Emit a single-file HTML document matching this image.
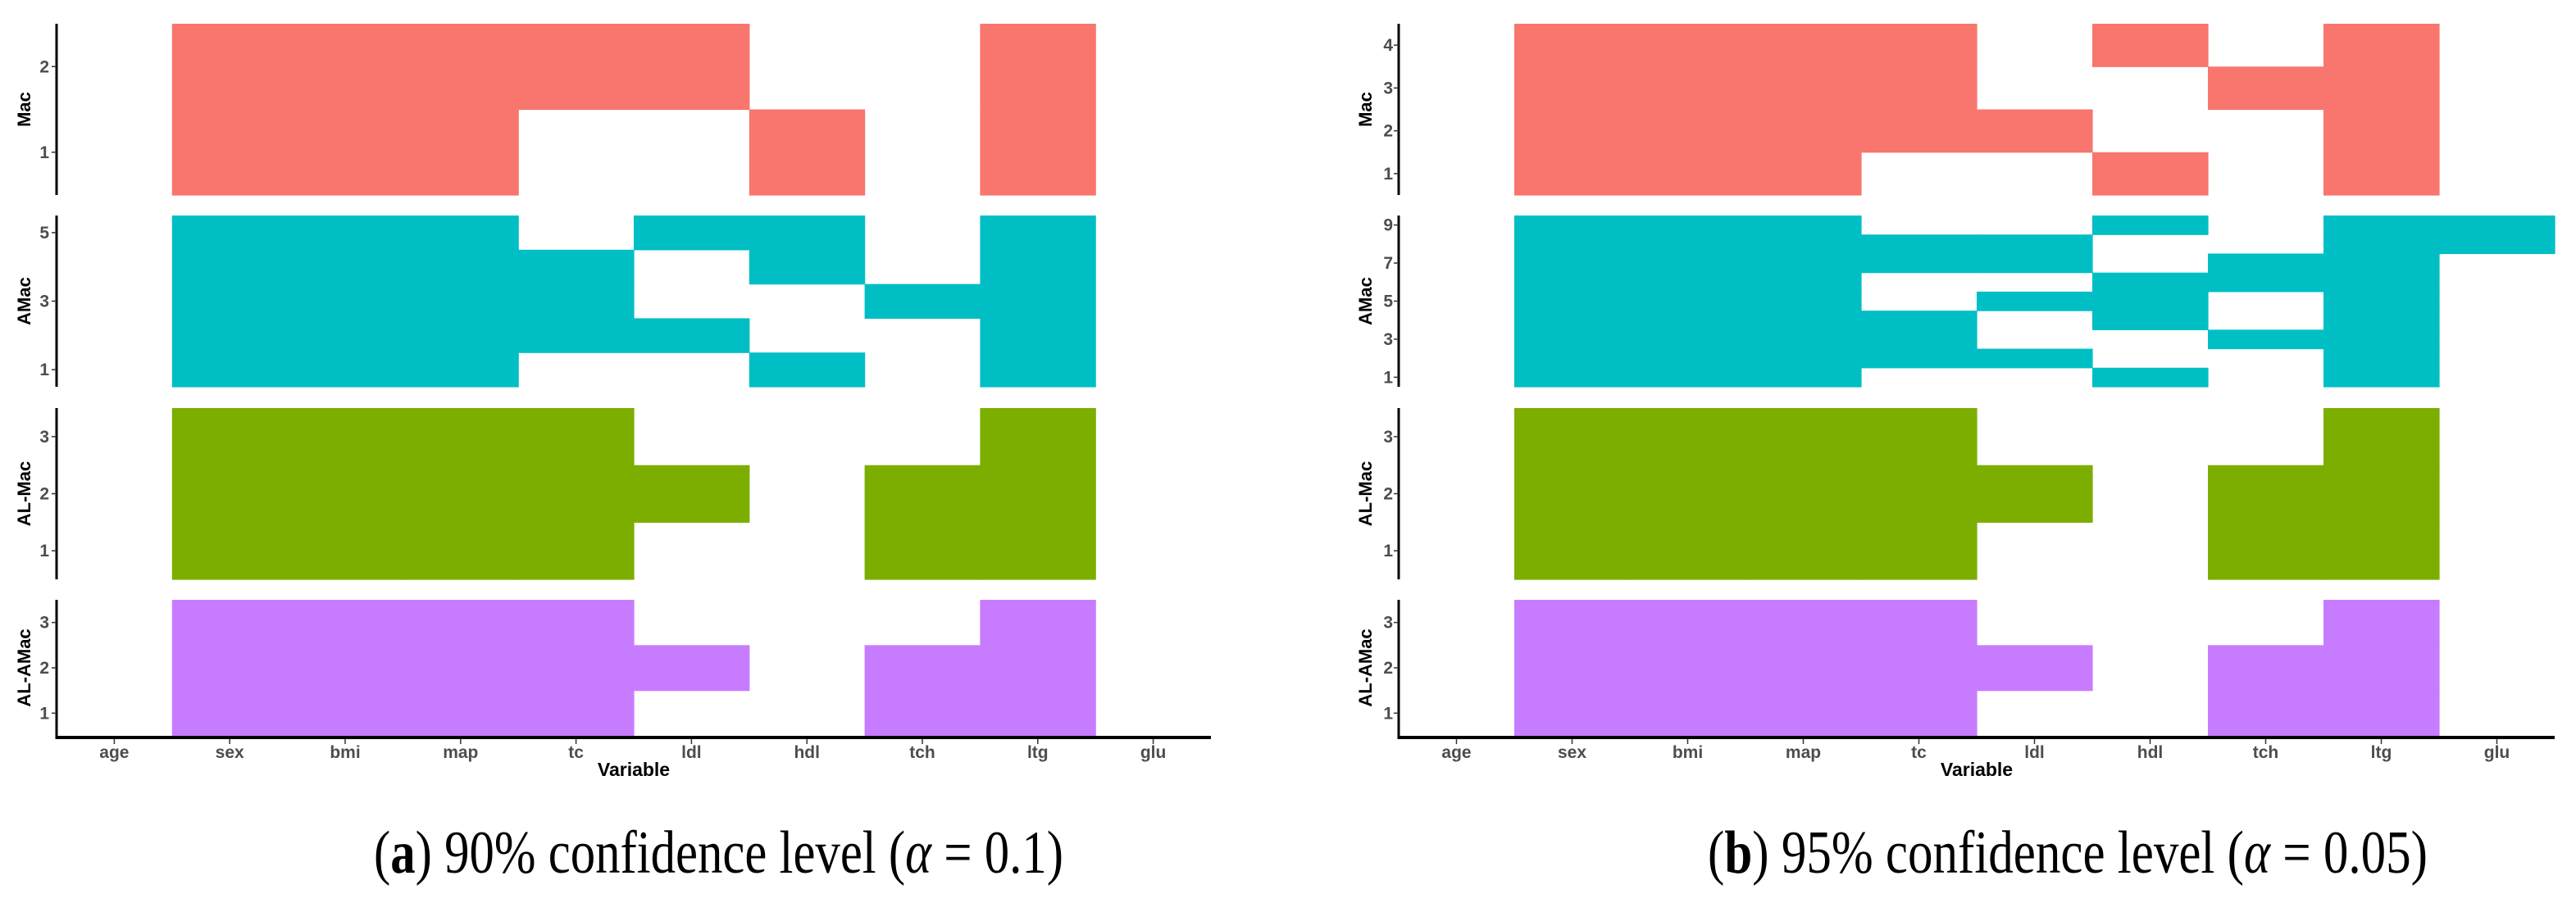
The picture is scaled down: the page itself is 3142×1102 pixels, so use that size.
<!DOCTYPE html>
<html><head><meta charset="utf-8"><style>
html,body{margin:0;padding:0;background:#fff;}
svg{display:block;}
.tick{font-family:"Liberation Sans Narrow","Liberation Sans",sans-serif;font-size:21px;font-weight:bold;fill:#4d4d4d;}
.ytitle{font-family:"Liberation Sans",sans-serif;font-size:22px;font-weight:bold;fill:#000;}
.xtitle{font-family:"Liberation Sans Narrow","Liberation Sans",sans-serif;font-size:23px;font-weight:bold;fill:#000;}
.cap{font-family:"Liberation Serif",serif;font-size:74px;fill:#000;}
</style></head><body>
<svg id="chart" width="3142" height="1102" viewBox="0 0 3142 1102" xmlns="http://www.w3.org/2000/svg"></svg>
<script>
const variables = ["age","sex","bmi","map","tc","ldl","hdl","tch","ltg","glu"];
const methods = ["Mac","AMac","AL-Mac","AL-AMac"];
const colors = ["#F8766D","#00BFC4","#7CAE00","#C77CFF"];
const F3 = [1,2,3], F5=[1,2,3,4,5], F4=[1,2,3,4], F9=[1,2,3,4,5,6,7,8,9];
// panel (a) selected model indices per variable
const aMac   = [[],[1,2],[1,2],[1,2],[2],[2],[1],[],[1,2],[]];
const aAMac  = [[],F5,F5,F5,[2,3,4],[2,5],[1,4,5],[3],F5,[]];
const aALMac = [[],F3,F3,F3,F3,[2],[],[1,2],F3,[]];
const aALAMac= [[],F3,F3,F3,F3,[2],[],[1,2],F3,[]];
const aMax = [2,5,3,3];
const aTicks = [[1,2],[1,3,5],[1,2,3],[1,2,3]];
// panel (b)
const bMac   = [[],F4,F4,F4,[2,3,4],[2],[1,4],[3],F4,[]];
const bAMac  = [[],F9,F9,F9,[2,3,4,7,8],[2,5,7,8],[1,4,5,6,9],[3,6,7],F9,[8,9]];
const bALMac = [[],F3,F3,F3,F3,[2],[],[1,2],F3,[]];
const bALAMac= [[],F3,F3,F3,F3,[2],[],[1,2],F3,[]];
const bMax = [4,9,3,3];
const bTicks = [[1,2,3,4],[1,3,5,7,9],[1,2,3],[1,2,3]];

const NS="http://www.w3.org/2000/svg";
const svg=document.getElementById('chart');
function mk(tag,attrs,parent){const e=document.createElementNS(NS,tag);for(const k in attrs)e.setAttribute(k,attrs[k]);(parent||svg).appendChild(e);return e;}
const panelsY=[[29,238],[263,472],[498,707],[732,898]];

function drawPanel(key,x0,x1,data,maxes,ticks,titleX,labelEnd){
  const g=mk('g',{});
  
  
  const cw=(x1-x0)/variables.length;
  const xs=i=>x0+cw*i;
  data.forEach((set,m)=>{
    const [top,bot]=panelsY[m];
    const unit=(bot-top)/maxes[m];
    const ys=v=>bot-(v-0.5)*unit;
    set.forEach((vals,i)=>{
      vals.forEach(v=>{
        const r=mk('rect',{x:xs(i),y:ys(v+0.5),width:cw+0.6,height:unit+0.6,fill:colors[m]},g);
        
        
      });
    });
    // y axis
    const ax=mk('line',{x1:x0,x2:x0,y1:top,y2:(m==3?901:bot),stroke:'#000','stroke-width':3},g);
    
    
    ticks[m].forEach(t=>{
      mk('line',{x1:x0-6,x2:x0,y1:ys(t),y2:ys(t),stroke:'#333','stroke-width':1.5},g);
      const tx=mk('text',{x:labelEnd,y:ys(t)+7,'text-anchor':'end',class:'tick'},g);
      tx.textContent=t;
      
      
    });
    const cy=(top+bot)/2;
    const tt=mk('text',{x:titleX,y:cy,'text-anchor':'middle',class:'ytitle',transform:`rotate(-90 ${titleX} ${cy})`},g);
    tt.textContent=methods[m];
    
    
  });
  const xa=mk('line',{x1:x0-1.5,x2:x1,y1:900,y2:900,stroke:'#000','stroke-width':4},g);
  
  
  variables.forEach((v,i)=>{
    const cx=xs(i)+cw/2;
    mk('line',{x1:cx,x2:cx,y1:902,y2:908,stroke:'#333','stroke-width':1.5},g);
    const t=mk('text',{x:cx,y:925,'text-anchor':'middle',class:'tick'},g);
    t.textContent=v;
    
    
  });
  const xt=mk('text',{x:(x0+x1)/2,y:947,'text-anchor':'middle',class:'xtitle'},g);
  xt.textContent='Variable';
  
  
}
drawPanel('a',69,1477,[aMac,aAMac,aALMac,aALAMac],aMax,aTicks,37,60);
drawPanel('b',1706,3116,[bMac,bAMac,bALMac,bALAMac],bMax,bTicks,1673,1699);

function caption(x,len,label,rest,alpha){
  const t=mk('text',{x:x,y:1065,class:'cap',textLength:len,lengthAdjust:'spacingAndGlyphs'});
  
  
  t.appendChild(document.createTextNode('('));
  const b=mk('tspan',{'font-weight':'bold'},t);b.textContent=label;
  t.appendChild(document.createTextNode(') '+rest+' ('));
  const a=mk('tspan',{'font-style':'italic'},t);a.textContent='α';
  t.appendChild(document.createTextNode(' = '+alpha+')'));
}
caption(456,841,'a','90% confidence level','0.1');
caption(2083,878,'b','95% confidence level','0.05');
</script>
</body></html>
